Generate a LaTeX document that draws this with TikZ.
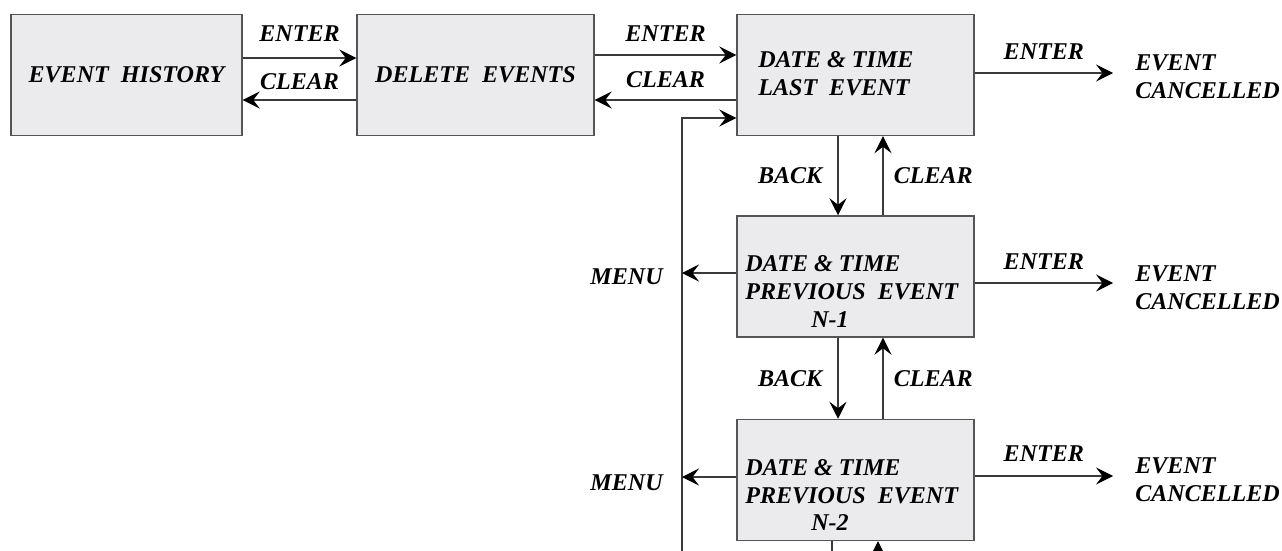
\documentclass[tikz,border=0pt]{standalone}
\usepackage{fontspec}
\setmainfont{Liberation Serif}
\usepackage{tikz}
\usetikzlibrary{arrows.meta}
\definecolor{boxfill}{HTML}{EBEBEE}
\definecolor{boxline}{HTML}{555555}
\definecolor{wireline}{HTML}{3A3A3A}
\newcommand{\boxw}{4.74cm}
\newcommand{\boxh}{2.42cm}
\newcommand{\histw}{4.62cm}
\newcommand{\backdx}{-0.35cm}
\newcommand{\cleardx}{0.55cm}
\newcommand{\nindent}{\hspace*{1.32cm}}

\begin{document}
\begin{tikzpicture}[x=0.02cm,y=-0.02cm,
    font=\fontsize{13.7}{15.8}\selectfont\bfseries\itshape,
    menubox/.style={draw=boxline,fill=boxfill,line width=0.03cm,
      minimum width=\boxw,minimum height=\boxh,inner sep=0pt},
    boxtext/.style={inner sep=0pt,align=left,anchor=west},
    lbl/.style={inner sep=0pt},
    wire/.style={draw=wireline,line width=0.03cm},
    arr/.style={wire,-{Stealth[length=0.34cm,width=0.34cm,inset=0.13cm,
      line width=0.6pt,color=black]}}]
    \useasboundingbox (0,0) rectangle (1282,551);
    % top row
    \node[menubox,minimum width=\histw] (hist) at (126.5,75) {EVENT\ \ HISTORY};
    \node[menubox] (del) at (475.5,75) {DELETE\ \ EVENTS};
    \node[menubox] (last) at (855.5,75) {};
    \node[boxtext] (last-t) at (758,74) {DATE \& TIME\\LAST\ \ EVENT};
    % previous events
    \node[menubox] (prev1) at (855.5,276.5) {};
    \node[boxtext] (prev1-t) at (745,291.5)
      {DATE \& TIME\\PREVIOUS\ \ EVENT\\\nindent N-1};
    \node[menubox] (prev2) at (855.5,480) {};
    \node[boxtext] (prev2-t) at (745,495)
      {DATE \& TIME\\PREVIOUS\ \ EVENT\\\nindent N-2};
    % event cancelled
    \node[boxtext] (canc0) at (1135,77)
      {\fontsize{13.7}{14.6}\selectfont EVENT\\CANCELLED};
    \node[boxtext] (canc1) at (1135,288)
      {\fontsize{13.7}{14.6}\selectfont EVENT\\CANCELLED};
    \node[boxtext] (canc2) at (1135,480)
      {\fontsize{13.7}{14.6}\selectfont EVENT\\CANCELLED};
    % menu
    \node[lbl,anchor=east] (menu1) at (663,277) {MENU};
    \node[lbl,anchor=east] (menu2) at (663,483) {MENU};
    \coordinate (loopbot) at (682,551);
    \coordinate (cutbot) at (0,565);

    % hist <-> del
    \draw[arr] ([yshift=0.34cm]hist.east)
      -- node[lbl,above=0.32cm] {ENTER} ([yshift=0.34cm]del.west);
    \draw[arr] ([yshift=-0.5cm]del.west)
      -- node[lbl,above=0.2cm] {CLEAR} ([yshift=-0.5cm]hist.east);
    % del <-> last
    \draw[arr] ([yshift=0.4cm]del.east)
      -- node[lbl,above=0.26cm] {ENTER} ([yshift=0.4cm]last.west);
    \draw[arr] ([yshift=-0.5cm]last.west)
      -- node[lbl,above=0.24cm] {CLEAR} ([yshift=-0.5cm]del.east);
    % menu loop
    \draw[arr] (loopbot) |- ([yshift=-0.86cm]last.west);
    \draw[arr] ([yshift=0.07cm]prev1.west) -- ([yshift=0.07cm]prev1.west -| loopbot);
    \draw[arr] ([yshift=0.06cm]prev2.west) -- ([yshift=0.06cm]prev2.west -| loopbot);
    % back / clear
    \foreach \upper/\lower in {last/prev1,prev1/prev2}{
      \draw[arr] ([xshift=\backdx]\upper.south)
        -- node[lbl,left=0.3cm] {BACK} ([xshift=\backdx]\lower.north);
      \draw[arr] ([xshift=\cleardx]\lower.north)
        -- node[lbl,right=0.2cm] {CLEAR} ([xshift=\cleardx]\upper.south);
    }
    \draw[wire] ([xshift=-0.47cm]prev2.south) -- ([xshift=-0.47cm]prev2.south |- cutbot);
    \draw[arr] ([xshift=0.45cm]prev2.south |- cutbot) -- ([xshift=0.45cm]prev2.south);
    % enter -> cancelled
    \draw[arr] ([yshift=0.04cm]last.east)
      -- node[lbl,above=0.26cm] {ENTER} ([yshift=0.04cm,xshift=-0.44cm]last.east -| canc0.west);
    \draw[arr] ([yshift=-0.13cm]prev1.east)
      -- node[lbl,above=0.26cm] {ENTER} ([yshift=-0.13cm,xshift=-0.44cm]prev1.east -| canc1.west);
    \draw[arr] ([yshift=0.08cm]prev2.east)
      -- node[lbl,above=0.28cm] {ENTER} ([yshift=0.08cm,xshift=-0.44cm]prev2.east -| canc2.west);
  \end{tikzpicture}
\end{document}
